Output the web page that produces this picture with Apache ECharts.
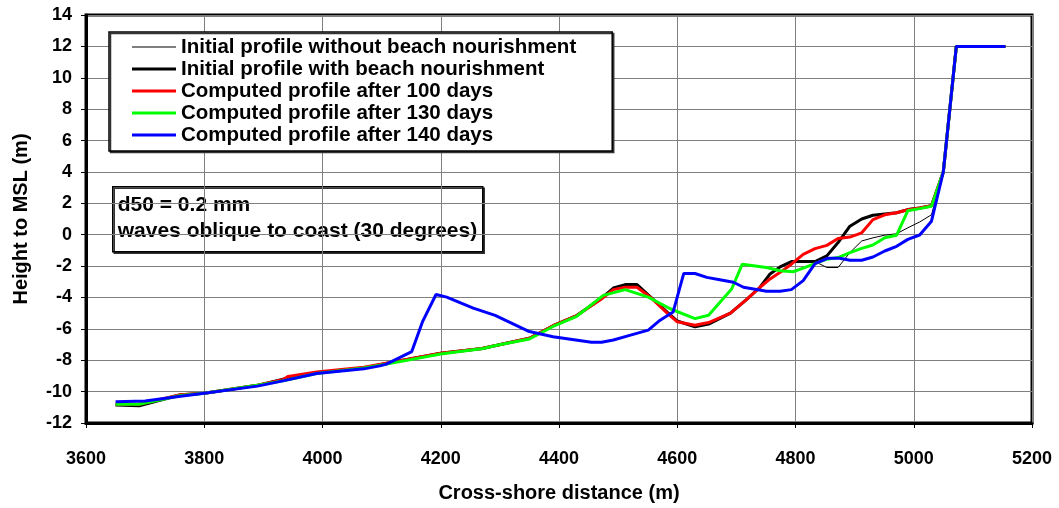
<html>
<head>
<meta charset="utf-8" />
<title>Cross-shore profile</title>
<script src="https://cdn.jsdelivr.net/npm/echarts@6/dist/echarts.min.js"></script>
<style type="text/css">
body { margin: 0; background: #fff; }
#main { width: 1059px; height: 508px; }
</style>
</head>
<body>
<div id="main"></div>
<script type="text/javascript">
var myChart = echarts.init(document.getElementById("main"));

// profiles: [distance (m), height to MSL (m)]
var initialNoNourish = [[3650,-10.85],[3690,-10.9],[3760,-10.2],[3800,-10.1],[3890,-9.6],[3935,-9.2],[3990,-8.8],[4070,-8.5],[4115,-8.15],[4200,-7.55],[4270,-7.25],[4295,-7.05],[4350,-6.6],[4390,-5.8],[4430,-5.15],[4470,-4.1],[4492,-3.4],[4512,-3.18],[4532,-3.18],[4555,-3.98],[4583,-4.93],[4600,-5.5],[4630,-5.87],[4653,-5.7],[4690,-5.0],[4718,-4.1],[4740,-3.35],[4757,-2.5],[4774,-2.05],[4793,-1.71],[4833,-1.71],[4853,-2.09],[4872,-2.09],[4892,-1.14],[4912,-0.4],[4931,-0.2],[4951,-0.03],[4971,0.06],[4990,0.44],[5010,0.81],[5030,1.27],[5050,4.0],[5072,12],[5155,12]];
var initialNourish = [[3650,-10.85],[3690,-10.9],[3760,-10.2],[3800,-10.1],[3890,-9.6],[3935,-9.2],[3990,-8.8],[4070,-8.5],[4115,-8.15],[4200,-7.55],[4270,-7.25],[4295,-7.05],[4350,-6.6],[4390,-5.8],[4430,-5.15],[4470,-4.1],[4492,-3.4],[4512,-3.18],[4532,-3.18],[4555,-3.98],[4583,-4.93],[4600,-5.5],[4630,-5.87],[4653,-5.7],[4690,-5.0],[4718,-4.1],[4740,-3.35],[4757,-2.5],[4774,-2.05],[4793,-1.71],[4833,-1.71],[4853,-1.35],[4872,-0.5],[4892,0.54],[4912,1.0],[4931,1.24],[4951,1.32],[4971,1.4],[4990,1.6],[5010,1.7],[5030,1.85],[5050,4.0],[5072,12],[5155,12]];
var after100 = [[3650,-10.8],[3690,-10.8],[3760,-10.2],[3800,-10.1],[3890,-9.6],[3933,-9.24],[3942,-9.03],[3990,-8.75],[4070,-8.45],[4115,-8.15],[4200,-7.55],[4270,-7.25],[4295,-7.05],[4350,-6.6],[4390,-5.8],[4430,-5.15],[4470,-4.15],[4492,-3.5],[4512,-3.35],[4532,-3.35],[4555,-4.0],[4583,-5.0],[4600,-5.55],[4630,-5.77],[4653,-5.6],[4690,-5.0],[4718,-4.1],[4740,-3.35],[4757,-2.82],[4774,-2.4],[4793,-1.88],[4813,-1.25],[4833,-0.89],[4853,-0.68],[4872,-0.24],[4892,-0.15],[4912,0.12],[4931,0.96],[4951,1.27],[4971,1.4],[4990,1.59],[5010,1.7],[5030,1.85],[5050,4.0],[5072,12],[5155,12]];
var after130 = [[3650,-10.8],[3690,-10.8],[3760,-10.25],[3800,-10.1],[3890,-9.6],[3935,-9.3],[3990,-8.85],[4070,-8.5],[4115,-8.2],[4200,-7.6],[4272,-7.25],[4295,-7.05],[4350,-6.65],[4390,-5.85],[4430,-5.2],[4475,-3.87],[4512,-3.5],[4551,-3.98],[4588,-4.72],[4630,-5.35],[4653,-5.13],[4692,-3.46],[4710,-1.88],[4751,-2.09],[4774,-2.3],[4796,-2.36],[4813,-2.13],[4833,-1.84],[4853,-1.56],[4872,-1.46],[4892,-1.14],[4912,-0.87],[4931,-0.66],[4951,-0.2],[4971,-0.03],[4990,1.53],[5010,1.66],[5030,1.81],[5050,4.0],[5072,12],[5155,12]];
var after140 = [[3650,-10.65],[3700,-10.6],[3760,-10.3],[3800,-10.1],[3890,-9.65],[3935,-9.3],[3990,-8.85],[4070,-8.55],[4097,-8.36],[4108,-8.25],[4151,-7.45],[4169,-5.56],[4192,-3.81],[4210,-3.98],[4255,-4.68],[4292,-5.14],[4348,-6.15],[4390,-6.5],[4455,-6.86],[4472,-6.86],[4492,-6.71],[4521,-6.4],[4551,-6.08],[4571,-5.45],[4593,-4.93],[4611,-2.47],[4630,-2.47],[4650,-2.72],[4672,-2.87],[4695,-3.03],[4712,-3.35],[4751,-3.6],[4774,-3.6],[4793,-3.5],[4813,-2.93],[4833,-1.84],[4855,-1.5],[4875,-1.5],[4892,-1.63],[4912,-1.63],[4931,-1.42],[4951,-1.04],[4971,-0.74],[4990,-0.3],[5010,-0.02],[5030,0.86],[5050,4.0],[5072,12],[5155,12]];

var seriesNames = [
	"Initial profile without beach nourishment",
	"Initial profile with beach nourishment",
	"Computed profile after 100 days",
	"Computed profile after 130 days",
	"Computed profile after 140 days"
];
var seriesData = [initialNoNourish, initialNourish, after100, after130, after140];
var seriesColors = ["#000000", "#000000", "#ff0000", "#00ff00", "#0000ff"];
var seriesWidths = [1, 3, 3, 3, 3];

var fontFam = "Liberation Sans, Arial, sans-serif";

var series = seriesNames.map(function (name, i) {
	return {
		name: name,
		type: "line",
		data: seriesData[i],
		symbol: "none",
		silent: true,
		color: seriesColors[i],
		lineStyle: { color: seriesColors[i], width: seriesWidths[i] },
		z: 2 + i
	};
});

// legend samples as plain bars, thickness like the series lines
var legendData = seriesNames.map(function (name, i) {
	var h = seriesWidths[i];
	return { name: name, icon: "path://M0,0 L44,0 L44," + h + " L0," + h + " Z" };
});

option = {
	backgroundColor: "#ffffff",
	animation: false,
	grid: {
		left: 86,
		right: 27,
		top: 15,
		bottom: 81,
		show: true,
		borderColor: "#000",
		borderWidth: 3
	},
	legend: {
		orient: "vertical",
		left: 109,
		top: 32,
		data: legendData,
		itemWidth: 44,
		itemHeight: 14,
		itemGap: 0,
		padding: [4, 36, 5, 23],
		backgroundColor: "#fff",
		borderColor: "#000",
		borderWidth: 1.5,
		shadowColor: "#333",
		shadowOffsetX: 1.5,
		shadowOffsetY: 1.5,
		shadowBlur: 0,
		textStyle: {
			fontFamily: fontFam,
			fontWeight: "bold",
			fontSize: 20.5,
			lineHeight: 22,
			color: "#000"
		},
		z: 10
	},
	xAxis: {
		type: "value",
		min: 3600,
		max: 5200,
		interval: 200,
		name: "Cross-shore distance (m)",
		nameLocation: "middle",
		nameGap: 60,
		nameTextStyle: { fontFamily: fontFam, fontWeight: "bold", fontSize: 20, color: "#000" },
		axisLine: { onZero: false, lineStyle: { color: "#000", width: 3 } },
		axisTick: { show: true, length: 5, lineStyle: { color: "#000", width: 1 } },
		axisLabel: {
			margin: 27,
			fontFamily: fontFam, fontWeight: "bold", fontSize: 18, color: "#000",
			formatter: function (v) { return String(v); }
		},
		splitLine: { show: true, lineStyle: { color: "#7f7f7f", width: 1 } }
	},
	yAxis: {
		type: "value",
		min: -12,
		max: 14,
		interval: 2,
		name: "Height to MSL (m)",
		nameLocation: "middle",
		nameGap: 55,
		nameTextStyle: { fontFamily: fontFam, fontWeight: "bold", fontSize: 20, color: "#000" },
		axisLine: { onZero: false, lineStyle: { color: "#000", width: 3 } },
		axisTick: { show: true, length: 5, lineStyle: { color: "#000", width: 1 } },
		axisLabel: { margin: 14, fontFamily: fontFam, fontWeight: "bold", fontSize: 18, color: "#000" },
		splitLine: { show: true, lineStyle: { color: "#7f7f7f", width: 1 } }
	},
	graphic: [
		{
			type: "group",
			left: 112,
			top: 186,
			z: 20,
			children: [
				{
					type: "rect",
					shape: { x: 0, y: 0, width: 370, height: 65 },
					style: { fill: "#fff", stroke: "#000", lineWidth: 1.5, shadowColor: "#333", shadowOffsetX: 1.5, shadowOffsetY: 1.5, shadowBlur: 0 }
				},
				{
					type: "text",
					x: 5,
					y: 18,
					style: { text: "d50 = 0.2 mm", fill: "#000", font: "bold 21px " + fontFam, verticalAlign: "middle" }
				},
				{
					type: "text",
					x: 5,
					y: 44,
					style: { text: "waves oblique to coast (30 degrees)", fill: "#000", font: "bold 21px " + fontFam, verticalAlign: "middle" }
				}
			]
		}
	],
	series: series
};

myChart.setOption(option);
</script>
</body>
</html>
